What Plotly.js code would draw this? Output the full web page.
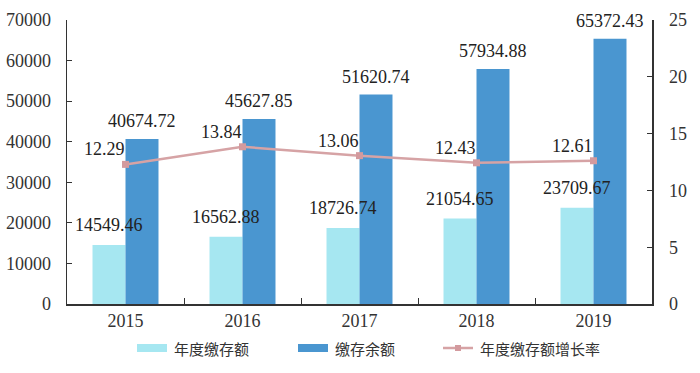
<!DOCTYPE html>
<html>
<head>
<meta charset="utf-8">
<script src="https://cdn.plot.ly/plotly-3.0.1.min.js"></script>
<style>html,body{margin:0;padding:0;background:#fff;}#chart{width:700px;height:373px;}</style>
</head>
<body>
<div id="chart"></div>
<script>
const years = ['2015', '2016', '2017', '2018', '2019'];
const annualDeposit = [14549.46, 16562.88, 18726.74, 21054.65, 23709.67];
const depositBalance = [40674.72, 45627.85, 51620.74, 57934.88, 65372.43];
const growthRate = [12.29, 13.84, 13.06, 12.43, 12.61];
const seriesNames = ['年度缴存额', '缴存余额', '年度缴存额增长率'];

const serif = 'Liberation Serif, DejaVu Serif, serif';
const cjk = 'Noto Sans CJK SC, sans-serif';
const lightColor = '#a6e7f1', darkColor = '#4a96d0', lineColor = '#d6a3a5', markerColor = '#d39a9e';

// plot area in pixels
const M = {l: 67, r: 48, t: 20, b: 69};
const W = 700, H = 373;
const pw = W - M.l - M.r, ph = H - M.t - M.b;
const px2x = p => (p - M.l) / pw;
const py2y = p => (H - M.b - p) / ph;

const traces = [
  {type: 'bar', name: seriesNames[0], x: years, y: annualDeposit,
   marker: {color: lightColor}, offsetgroup: 'a', cliponaxis: false, showlegend: false},
  {type: 'bar', name: seriesNames[1], x: years, y: depositBalance,
   marker: {color: darkColor}, offsetgroup: 'b', cliponaxis: false, showlegend: false},
  {type: 'scatter', mode: 'lines+markers', name: seriesNames[2], x: years, y: growthRate,
   yaxis: 'y2', line: {color: lineColor, width: 2.5},
   marker: {symbol: 'square', size: 7, color: markerColor}, cliponaxis: false, showlegend: false}
];

const lblFont = {family: serif, size: 18, color: '#222'};
const annotations = [];
years.forEach((yr, i) => {
  annotations.push({x: i, y: annualDeposit[i], xref: 'x', yref: 'y', text: annualDeposit[i].toFixed(2),
    showarrow: false, xshift: -16.5, yshift: 8, yanchor: 'bottom', font: lblFont});
  annotations.push({x: i, y: depositBalance[i], xref: 'x', yref: 'y', text: depositBalance[i].toFixed(2),
    showarrow: false, xshift: 16.5, yshift: 6, yanchor: 'bottom', font: lblFont});
  annotations.push({x: i, y: growthRate[i], xref: 'x', yref: 'y2', text: growthRate[i].toFixed(2),
    showarrow: false, xshift: -21, yshift: 3, yanchor: 'bottom', font: lblFont});
});

// custom legend (wide flat swatches like the reference)
const legY = 348;
const shapes = [
  {type: 'rect', xref: 'paper', yref: 'paper', x0: px2x(137), x1: px2x(167), y0: py2y(352), y1: py2y(344),
   fillcolor: lightColor, line: {width: 0}},
  {type: 'rect', xref: 'paper', yref: 'paper', x0: px2x(298), x1: px2x(328), y0: py2y(352), y1: py2y(344),
   fillcolor: darkColor, line: {width: 0}},
  {type: 'line', xref: 'paper', yref: 'paper', x0: px2x(443), x1: px2x(473), y0: py2y(legY), y1: py2y(legY),
   line: {color: lineColor, width: 2.5}},
  {type: 'rect', xref: 'paper', yref: 'paper', x0: px2x(455), x1: px2x(461), y0: py2y(351), y1: py2y(345),
   fillcolor: markerColor, line: {width: 0}}
];
const legFont = {family: cjk, size: 15, color: '#333'};
[[172, 0], [333, 1], [478, 2]].forEach(([p, k]) => {
  annotations.push({xref: 'paper', yref: 'paper', x: px2x(p), y: py2y(legY), xanchor: 'left', yanchor: 'middle',
    text: seriesNames[k], showarrow: false, font: legFont});
});

const tickFont = {family: serif, size: 18, color: '#333'};
const layout = {
  width: W, height: H,
  margin: M,
  paper_bgcolor: '#fff', plot_bgcolor: '#fff',
  barmode: 'group', bargap: 0.436, bargroupgap: 0,
  showlegend: false,
  xaxis: {type: 'category', range: [-0.5, 4.5], showline: true, linecolor: '#333', linewidth: 1.5,
    ticks: 'inside', tickson: 'boundaries', ticklen: 6, tickcolor: '#333', tickangle: 0,
    tickfont: tickFont, showgrid: false, automargin: false},
  yaxis: {range: [0, 70000], dtick: 10000, tickformat: 'd', showline: true, linecolor: '#333', linewidth: 1.5,
    ticks: 'inside', ticklen: 5, tickcolor: '#333', showgrid: false, zeroline: false,
    ticklabelstandoff: 11, tickfont: tickFont, automargin: false},
  yaxis2: {range: [0, 25], dtick: 5, overlaying: 'y', side: 'right', showline: true,
    linecolor: '#333', linewidth: 1.5, ticks: 'inside', ticklen: 5, tickcolor: '#333',
    showgrid: false, zeroline: false, ticklabelstandoff: 12, tickfont: tickFont, automargin: false},
  shapes: shapes,
  annotations: annotations
};

Plotly.newPlot('chart', traces, layout, {displayModeBar: false, staticPlot: true});
</script>
</body>
</html>
